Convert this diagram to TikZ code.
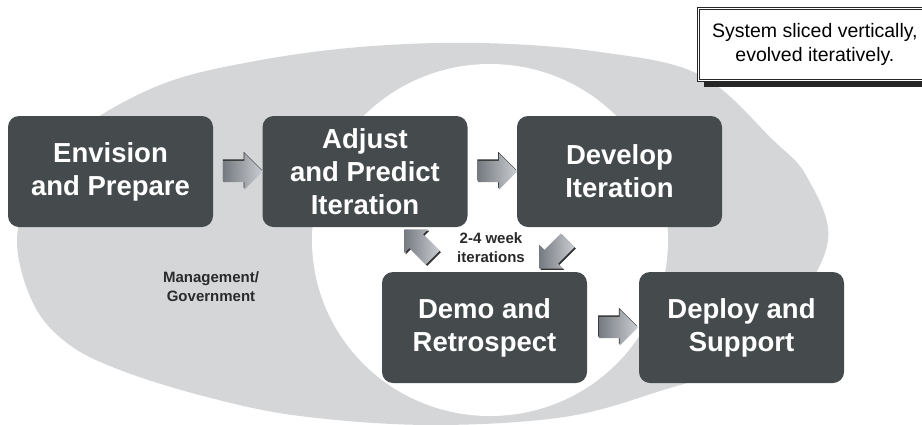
\documentclass[tikz,border=0pt]{standalone}
\usepackage{fontspec}
\setmainfont{Liberation Sans}
\usetikzlibrary{shapes.arrows,calc}
\definecolor{boxdark}{HTML}{454B4D}
\definecolor{ovalgray}{HTML}{D5D6D8}
\definecolor{arrowdark}{HTML}{767B81}
\definecolor{arrowlight}{HTML}{CACDD1}
\definecolor{labeldark}{HTML}{2A2A2A}
\begin{document}
\begin{tikzpicture}[x=1pt,y=-1pt,
  stagebox/.style={rectangle, rounded corners=11pt, fill=boxdark,
    minimum width=205pt, minimum height=111pt, inner sep=0pt,
    text=white, align=center, font=\fontsize{27.5}{33}\selectfont\bfseries},
  arrowbase/.style={single arrow, minimum height=39pt, inner xsep=0pt,
    inner ysep=10.5pt, single arrow head extend=7.5pt},
  blockarrow/.style={arrowbase, left color=arrowdark, right color=arrowlight},
  arrowshadow/.style={arrowbase, fill=black!80},
  diagsize/.style={minimum height=40pt, inner ysep=9.5pt,
    single arrow head extend=7pt},
  smalllabel/.style={align=center, text=labeldark,
    font=\fontsize{15}{18.5}\selectfont\bfseries},
  notebox/.style={draw=black!85, line width=0.8pt, double=white,
    double distance=1.6pt, fill=white, minimum width=233pt,
    minimum height=72pt, inner sep=0pt, align=center,
    font=\fontsize{19.5}{24.5}\selectfont}
]
\useasboundingbox (0,0) rectangle (922,424);
\fill[white] (0,0) rectangle (922,424);

% outer grey oval
\fill[ovalgray] plot[smooth cycle, tension=0.6] coordinates {
  (17,240) (33,303) (67,343) (120,370) (207,397) (300,416) (430,425)
  (564,417) (660,391) (720,368) (790,310) (828,240) (807,177) (773,140)
  (700,75) (600,52) (480,43) (360,47) (250,62) (160,85) (80,130) (35,185)};
% inner white oval
\fill[white] (490,240) ellipse [x radius=178, y radius=176];

% note box with shadow
\fill[black!85] (704,14) rectangle (940,87);
\node[notebox, anchor=north west] (note) at (698,8)
  {\raisebox{-2pt}{System sliced vertically,}\\ \raisebox{-2pt}{evolved iteratively.}};

% stage boxes
\node[stagebox] (env) at (110.5,171.5) {\raisebox{-3pt}{Envision}\\ \raisebox{-3pt}{and Prepare}};
\node[stagebox] (adj) at (365,171.5) {Adjust\\ and Predict\\ Iteration};
\node[stagebox] (dev) at (619.5,171.5) {\raisebox{-3pt}{Develop}\\ \raisebox{-3pt}{Iteration}};
\node[stagebox] (demo) at (484.5,327.5) {Demo and\\ Retrospect};
\node[stagebox] (dep) at (741.5,327.5) {Deploy and\\ Support};

% block arrows (shadow first, then shaded arrow)
\coordinate (p1) at ($(env.east)!0.5!(adj.west)$);
\coordinate (p2) at ($(adj.east)!0.5!(dev.west)$);
\coordinate (p3) at ($(demo.east)!0.5!(dep.west)$);
\coordinate (p4) at (422,247);
\coordinate (p5) at (557,251);

\node[arrowshadow] (s1) at ($(p1)+(-0.8,-1.5)$) {};
\node[blockarrow] (a1) at (p1) {};
\node[arrowshadow] (s2) at ($(p2)+(-0.8,-1.5)$) {};
\node[blockarrow] (a2) at (p2) {};
\node[arrowshadow] (s3) at ($(p3)+(-0.8,-1.5)$) {};
\node[blockarrow] (a3) at (p3) {};
\node[arrowshadow, diagsize, rotate=135] (s4) at ($(p4)+(1.3,1.3)$) {};
\node[blockarrow, diagsize, rotate=135] (a4) at (p4) {};
\node[arrowshadow, diagsize, rotate=225] (s5) at ($(p5)+(1.3,1.3)$) {};
\node[blockarrow, diagsize, rotate=225] (a5) at (p5) {};

% labels
\node[smalllabel] (iter) at (491,247.5) {2-4 week\\ iterations};
\node[smalllabel] (mgmt) at (211,286.5) {Management/\\ Government};
\end{tikzpicture}
\end{document}
